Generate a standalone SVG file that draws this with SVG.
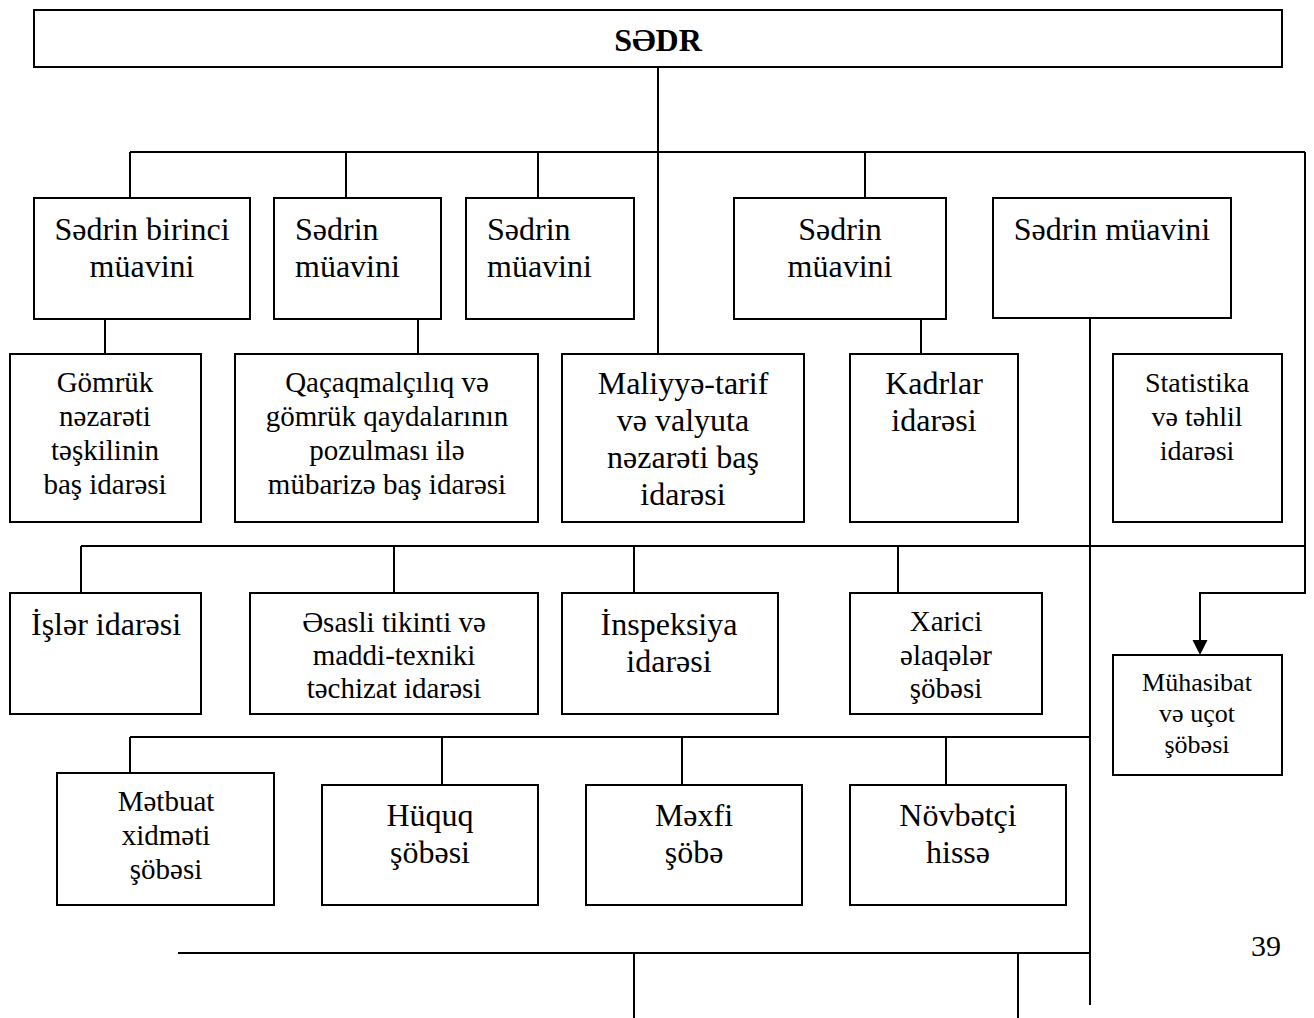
<svg xmlns="http://www.w3.org/2000/svg" width="1314" height="1018" viewBox="0 0 1314 1018">
<style>
.box{fill:#fff;stroke:#000;stroke-width:2}
.t{font-family:"Liberation Serif","Times New Roman","DejaVu Serif",serif;fill:#000;text-anchor:middle}
.l{text-anchor:start}
.c{fill:none;stroke:#000;stroke-width:2}
</style>
<rect width="1314" height="1018" fill="#fff"/>
<g id="connectors">
<path class="c" d="M658,67 V367"/>
<path class="c" d="M130,152 H1305"/>
<path class="c" d="M130,152 V198 M346,152 V198 M538,152 V198 M865,152 V198"/>
<path class="c" d="M105,319 V367 M418,319 V367 M921,319 V367"/>
<path class="c" d="M1090,318 V1005"/>
<path class="c" d="M1305,152 V593 H1200 V641"/>
<path d="M1192.5,640 L1207.5,640 L1200,655 Z" fill="#000"/>
<path class="c" d="M81,546 H1305"/>
<path class="c" d="M81,546 V593 M394,546 V593 M634,546 V593 M898,546 V593"/>
<path class="c" d="M130,737 H1090"/>
<path class="c" d="M130,737 V785 M442,737 V785 M682,737 V785 M946,737 V785"/>
<path class="c" d="M178,953 H1090"/>
<path class="c" d="M634,953 V1018 M1018,953 V1018"/>
</g>
<g id="sedr">
<rect class="box" x="34" y="10" width="1248" height="57"/>
<text class="t" x="658" y="51" font-size="32" font-weight="bold">SƏDR</text>
</g>
<g id="birinci-muavin">
<rect class="box" x="34" y="198" width="216" height="121"/>
<text class="t" font-size="32"><tspan x="142" y="240">Sədrin birinci</tspan><tspan x="142" y="277">müavini</tspan></text>
</g>
<g id="muavin-2">
<rect class="box" x="274" y="198" width="167" height="121"/>
<text class="t l" font-size="32"><tspan x="295" y="240">Sədrin</tspan><tspan x="295" y="277">müavini</tspan></text>
</g>
<g id="muavin-3">
<rect class="box" x="466" y="198" width="168" height="121"/>
<text class="t l" font-size="32"><tspan x="487" y="240">Sədrin</tspan><tspan x="487" y="277">müavini</tspan></text>
</g>
<g id="muavin-4">
<rect class="box" x="734" y="198" width="212" height="121"/>
<text class="t" font-size="32"><tspan x="840" y="240">Sədrin</tspan><tspan x="840" y="277">müavini</tspan></text>
</g>
<g id="muavin-5">
<rect class="box" x="993" y="198" width="238" height="120"/>
<text class="t" font-size="32"><tspan x="1112" y="240">Sədrin müavini</tspan></text>
</g>
<g id="gomruk-nezareti">
<rect class="box" x="10" y="354" width="191" height="168"/>
<text class="t" font-size="29"><tspan x="105" y="392">Gömrük</tspan><tspan x="105" y="426">nəzarəti</tspan><tspan x="105" y="460">təşkilinin</tspan><tspan x="105" y="494">baş idarəsi</tspan></text>
</g>
<g id="qacaqmalciliq">
<rect class="box" x="235" y="354" width="303" height="168"/>
<text class="t" font-size="29"><tspan x="387" y="392">Qaçaqmalçılıq və</tspan><tspan x="387" y="426">gömrük qaydalarının</tspan><tspan x="387" y="460">pozulması ilə</tspan><tspan x="387" y="494">mübarizə baş idarəsi</tspan></text>
</g>
<g id="maliyye-tarif">
<rect class="box" x="562" y="354" width="242" height="168"/>
<text class="t" font-size="32"><tspan x="683" y="394">Maliyyə-tarif</tspan><tspan x="683" y="431">və valyuta</tspan><tspan x="683" y="468">nəzarəti baş</tspan><tspan x="683" y="505">idarəsi</tspan></text>
</g>
<g id="kadrlar">
<rect class="box" x="850" y="354" width="168" height="168"/>
<text class="t" font-size="32"><tspan x="934" y="394">Kadrlar</tspan><tspan x="934" y="431">idarəsi</tspan></text>
</g>
<g id="statistika">
<rect class="box" x="1113" y="354" width="169" height="168"/>
<text class="t" font-size="28"><tspan x="1197" y="392">Statistika</tspan><tspan x="1197" y="426">və təhlil</tspan><tspan x="1197" y="460">idarəsi</tspan></text>
</g>
<g id="isler">
<rect class="box" x="10" y="593" width="191" height="121"/>
<text class="t l" font-size="32"><tspan x="31" y="635">İşlər idarəsi</tspan></text>
</g>
<g id="esasli-tikinti">
<rect class="box" x="250" y="593" width="288" height="121"/>
<text class="t" font-size="29"><tspan x="394" y="632">Əsasli tikinti və</tspan><tspan x="394" y="665">maddi-texniki</tspan><tspan x="394" y="698">təchizat idarəsi</tspan></text>
</g>
<g id="inspeksiya">
<rect class="box" x="562" y="593" width="216" height="121"/>
<text class="t" font-size="32"><tspan x="669" y="635">İnspeksiya</tspan><tspan x="669" y="672">idarəsi</tspan></text>
</g>
<g id="xarici-elaqeler">
<rect class="box" x="850" y="593" width="192" height="121"/>
<text class="t" font-size="29"><tspan x="946" y="631">Xarici</tspan><tspan x="946" y="665">əlaqələr</tspan><tspan x="946" y="698">şöbəsi</tspan></text>
</g>
<g id="muhasibat">
<rect class="box" x="1113" y="655" width="169" height="120"/>
<text class="t" font-size="26"><tspan x="1197" y="691">Mühasibat</tspan><tspan x="1197" y="722">və uçot</tspan><tspan x="1197" y="753">şöbəsi</tspan></text>
</g>
<g id="metbuat">
<rect class="box" x="57" y="773" width="217" height="132"/>
<text class="t" font-size="29"><tspan x="166" y="811">Mətbuat</tspan><tspan x="166" y="845">xidməti</tspan><tspan x="166" y="879">şöbəsi</tspan></text>
</g>
<g id="huquq">
<rect class="box" x="322" y="785" width="216" height="120"/>
<text class="t" font-size="32"><tspan x="430" y="826">Hüquq</tspan><tspan x="430" y="863">şöbəsi</tspan></text>
</g>
<g id="mexfi">
<rect class="box" x="586" y="785" width="216" height="120"/>
<text class="t" font-size="32"><tspan x="694" y="826">Məxfi</tspan><tspan x="694" y="863">şöbə</tspan></text>
</g>
<g id="novbetci">
<rect class="box" x="850" y="785" width="216" height="120"/>
<text class="t" font-size="32"><tspan x="958" y="826">Növbətçi</tspan><tspan x="958" y="863">hissə</tspan></text>
</g>
<text class="t" x="1266" y="956" font-size="30">39</text>
</svg>
